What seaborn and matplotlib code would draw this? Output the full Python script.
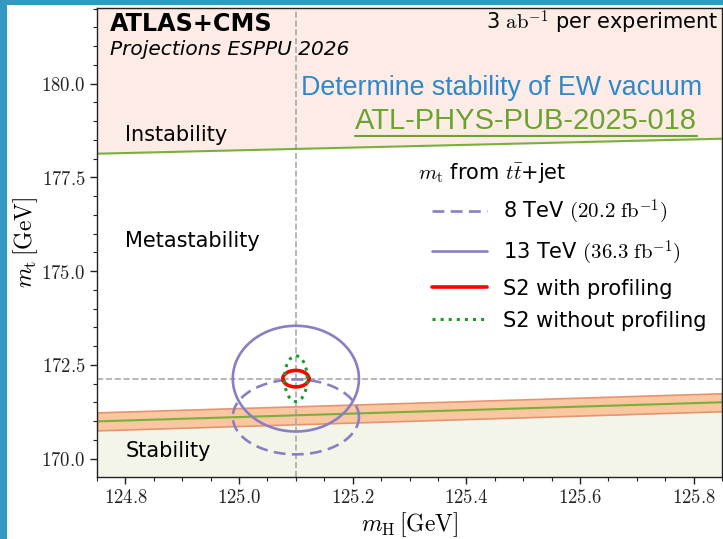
import numpy as np
import matplotlib
matplotlib.use("Agg")
import matplotlib.pyplot as plt
from matplotlib.lines import Line2D
from matplotlib.patches import Rectangle
from matplotlib.ticker import MultipleLocator, FuncFormatter
import seaborn as sns

# boundaries of the stability regions
edge_mh = [124.75, 125.85]
instab_mt = [178.13, 178.53]
stab_mt = [170.99, 171.50]
stab_lo = [170.75, 171.26]
stab_hi = [171.23, 171.74]

# best fit point
best_mh = 125.1
best_mt = 172.13

# uncertainty ellipses: centre and half axes
ell_labels = ['8 TeV $(20.2\\ \\mathrm{fb}^{-1})$', '13 TeV $(36.3\\ \\mathrm{fb}^{-1})$',
              'S2 with profiling', 'S2 without profiling']
ell_mh = [125.1, 125.1, 125.1, 125.1]
ell_mt = [171.11, 172.13, 172.13, 172.13]
ell_dmh = [0.111, 0.111, 0.023, 0.020]
ell_dmt = [1.00, 1.41, 0.22, 0.61]
ell_colors = ['#8a7fc2', '#8a7fc2', '#ff0000', '#1e9a2a']
ell_styles = [(0, (4.5, 2.4)), '-', '-', ':']
ell_widths = [1.9, 1.9, 2.6, 2.2]

sns.set_style("ticks")
plt.rcParams['font.family'] = ['DejaVu Sans']
plt.rcParams['mathtext.fontset'] = 'cm'
plt.rcParams['text.color'] = 'black'
plt.rcParams['axes.labelcolor'] = 'black'

fig = plt.figure(figsize=(7.23, 5.39), dpi=100)
fig.patch.set_facecolor('#3399c1')
fig.patches.append(Rectangle((7 / 723, 0), 1, 534 / 539, transform=fig.transFigure,
                             facecolor='white', edgecolor='none', zorder=-10))
ax = fig.add_axes([97 / 723, 62.5 / 539, 625 / 723, 469 / 539])

# regions
ax.fill_between(edge_mh, instab_mt, [190, 190], color='#fdebe6', lw=0, zorder=0)
ax.fill_between(edge_mh, [160, 160], stab_lo, color='#f4f5e9', lw=0, zorder=0)
ax.fill_between(edge_mh, stab_lo, stab_hi, facecolor='#fbc7a0', edgecolor='#e39572', lw=1.2, zorder=1)
sns.lineplot(x=edge_mh, y=instab_mt, color='#79b03a', lw=1.5, ax=ax, zorder=2)
sns.lineplot(x=edge_mh, y=stab_mt, color='#79b03a', lw=1.5, ax=ax, zorder=2)

# best fit guide lines
ax.axvline(best_mh, color='#aaaaaa', ls='--', lw=1.2, zorder=1)
ax.axhline(best_mt, color='#aaaaaa', ls='--', lw=1.2, zorder=1)

t = np.linspace(0, 2 * np.pi, 300)
for lab, cx, cy, dx, dy, c, ls, lw in zip(ell_labels, ell_mh, ell_mt, ell_dmh, ell_dmt,
                                          ell_colors, ell_styles, ell_widths):
    sns.lineplot(x=cx + dx * np.cos(t), y=cy + dy * np.sin(t), sort=False, estimator=None,
                 color=c, ls=ls, lw=lw, label=lab, ax=ax, zorder=3)

ax.set_xlim(124.75, 125.85)
ax.set_ylim(169.52, 182.03)
ax.xaxis.set_major_locator(MultipleLocator(0.2))
ax.xaxis.set_minor_locator(MultipleLocator(0.05))
ax.yaxis.set_major_locator(MultipleLocator(2.5))
ax.yaxis.set_minor_locator(MultipleLocator(0.5))
fmt = FuncFormatter(lambda v, p: f"${v:.1f}$")
ax.xaxis.set_major_formatter(fmt)
ax.yaxis.set_major_formatter(fmt)
ax.tick_params(which='major', length=5, width=1, labelsize=13.5, colors='#222222')
ax.tick_params(which='minor', length=3, width=0.8, colors='#222222')
for s in ax.spines.values():
    s.set_color('#222222')
    s.set_linewidth(1)

ax.set_xlabel(r'$m_{\rm H}\,[\rm GeV]$', fontsize=17, labelpad=2)
ax.set_ylabel(r'$m_{\rm t}\,[\rm GeV]$', fontsize=17, labelpad=1)

# region names
ax.text(124.8, 178.64, 'Instability', fontsize=15, va='center')
ax.text(124.8, 175.81, 'Metastability', fontsize=15, va='center')
ax.text(124.8, 170.21, 'Stability', fontsize=15, va='center')

ax.text(0.021, 0.965, 'ATLAS+CMS', transform=ax.transAxes, fontsize=17.2, fontweight='bold', va='center')
ax.text(0.021, 0.91, 'Projections ESPPU 2026', transform=ax.transAxes, fontsize=14.5, style='italic', va='center')
ax.text(0.9936, 0.968, r'3 $\mathrm{ab}^{-1}$ per experiment', transform=ax.transAxes, fontsize=15,
        ha='right', va='center')
ax.text(0.968, 0.828, 'Determine stability of EW vacuum', transform=ax.transAxes, fontsize=19.3,
        family='Liberation Sans', color='#2e88c9', ha='right', va='center')
ref = ax.text(0.96, 0.758, 'ATL-PHYS-PUB-2025-018', transform=ax.transAxes, fontsize=21,
              family='Liberation Sans', color='#6aa42f', ha='right', va='center')

ax.text(0.5136, 0.645, r'$m_{\rm t}$ from $t\bar{t}$+jet', transform=ax.transAxes, fontsize=15, va='center')
ax.legend(loc='upper left', bbox_to_anchor=(0.536, 0.594), frameon=False, fontsize=15,
          borderpad=0, borderaxespad=0, handlelength=2.65, handletextpad=0.77, labelspacing=0.58)

# underline the reference
fig.canvas.draw()
bb = ref.get_window_extent()
fig.add_artist(Line2D([bb.x0 / fig.bbox.width, bb.x1 / fig.bbox.width],
                      [(bb.y0 - 1) / fig.bbox.height] * 2, transform=fig.transFigure,
                      color='#6aa42f', lw=1.5))

fig.savefig('out.png', dpi=100)
